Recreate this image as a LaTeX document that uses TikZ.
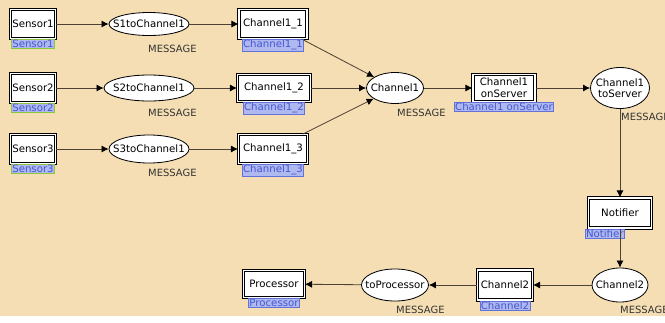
\documentclass[tikz,border=0pt]{standalone}
\usepackage{fontspec}
\setmainfont{DejaVu Sans}
\usetikzlibrary{arrows.meta,positioning,shapes.geometric}
\definecolor{sheet}{HTML}{F5DEB3}
\definecolor{arccol}{HTML}{4E4234}
\definecolor{tagfill}{HTML}{B0B8F0}
\definecolor{tagline}{HTML}{6272D8}
\definecolor{tagtext}{HTML}{4458D0}
\definecolor{sensline}{HTML}{8CC63F}
\newcommand\pl[1]{\makebox[0pt]{#1}}
\tikzset{
  subst/.style={draw=black, line width=0.85pt, double=white, double distance=1pt,
    fill=white, inner sep=1pt, minimum height=0.87cm, font=\fontsize{8.7}{10}\selectfont},
  place/.style={ellipse, draw=black, line width=0.7pt, fill=white, inner sep=0pt,
    font=\fontsize{8.7}{10}\selectfont},
  tag/.style={draw=tagline, fill=tagfill, text=tagtext, line width=0.5pt, inner sep=0.6pt,
    anchor=north, font=\fontsize{8.7}{9}\selectfont},
  sentag/.style={tag, draw=sensline, line width=0.9pt},
  colset/.style={text=black!80, inner sep=0pt, anchor=west, font=\fontsize{8.5}{10}\selectfont},
  arc/.style={draw=arccol, line width=0.7pt, -{Latex[length=6pt,width=6pt,color=black]}}
}

\begin{document}
\begin{tikzpicture}[x=0.03cm,y=-0.03cm]
	\useasboundingbox (0,0) rectangle (665,322);
	\fill[white] (0,0) rectangle (665,322);
	\fill[sheet] (0,0) rectangle (665,316);
	
	% sensors
	\node[subst, minimum width=1.35cm] (s1) at (33,24) {Sensor1};
	\node[subst, minimum width=1.35cm] (s2) at (33,88) {Sensor2};
	\node[subst, minimum width=1.35cm] (s3) at (33,149) {Sensor3};
	\node[sentag] (ts1) at (s1.south) {Sensor1};
	\node[sentag] (ts2) at (s2.south) {Sensor2};
	\node[sentag] (ts3) at (s3.south) {Sensor3};
	
	\node[place, minimum width=2.4cm, minimum height=0.69cm] (p1) at (149,24) {\pl{S1toChannel1}};
	\node[place, minimum width=2.7cm, minimum height=0.78cm] (p2) at (149,88) {\pl{S2toChannel1}};
	\node[place, minimum width=2.4cm, minimum height=0.84cm] (p3) at (149,149) {\pl{S3toChannel1}};
	\node[colset] (m1) at (148,49) {MESSAGE};
	\node[colset] (m2) at (148,113) {MESSAGE};
	\node[colset] (m3) at (148,173) {MESSAGE};
	
	% channel 1
	\node[subst, minimum width=2.04cm] (c11) at (273,24) {Channel1\_1};
	\node[subst, minimum width=2.19cm, minimum height=0.81cm] (c12) at (274,88) {Channel1\_2};
	\node[subst, minimum width=2.07cm] (c13) at (273,149) {Channel1\_3};
	\node[tag] (tc11) at (c11.south) {Channel1\_1};
	\node[tag] (tc12) at (c12.south) {Channel1\_2};
	\node[tag] (tc13) at (c13.south) {Channel1\_3};
	
	\node[place, minimum width=1.71cm, minimum height=0.93cm] (ch1) at (395,88) {\pl{Channel1}};
	\node[colset] (m4) at (397,113) {MESSAGE};
	
	\node[subst, minimum width=1.86cm, minimum height=0.81cm, align=center] (srv) at (504,88) {Channel1\\onServer};
	\node[tag] (tsrv) at (srv.south) {Channel1 onServer};
	
	\node[place, minimum width=1.77cm, minimum height=1.23cm] (tsv) at (620,88) {\pl{\shortstack{Channel1\\toServer}}};
	\node[colset] (m5) at (621,117) {MESSAGE};
	
	\node[subst, minimum width=1.89cm, minimum height=0.9cm] (notif) at (620,213) {Notifier};
	\node[tag, anchor=north west] (tnotif) at ([xshift=-0.09cm]notif.south west) {Notifier};
	
	% channel 2
	\node[place, minimum width=1.68cm, minimum height=1.02cm] (ch2p) at (620,285) {\pl{Channel2}};
	\node[colset] (m7) at (620,310) {MESSAGE};
	
	\node[subst, minimum width=1.65cm, minimum height=0.9cm] (ch2t) at (505,285) {Channel2};
	\node[tag] (tch2t) at (ch2t.south) {Channel2};
	
	\node[place, minimum width=2.01cm, minimum height=0.96cm] (toproc) at (395,285) {\pl{toProcessor}};
	\node[colset] (m6) at (396,310) {MESSAGE};
	
	\node[subst, minimum width=1.83cm, minimum height=0.81cm] (proc) at (274,284) {Processor};
	\node[tag] (tproc) at (proc.south) {Processor};
	
	% arcs
	\draw[arc] (s1) -- (p1);
	\draw[arc] (s2) -- (p2);
	\draw[arc] (s3) -- (p3);
	\draw[arc] (p1) -- (c11);
	\draw[arc] (p2) -- (c12);
	\draw[arc] (p3) -- (c13);
	\draw[arc] (c11) -- (ch1);
	\draw[arc] (c12) -- (ch1);
	\draw[arc] (c13) -- (ch1);
	\draw[arc] (ch1) -- (srv);
	\draw[arc] (srv) -- (tsv);
	\draw[arc] (tsv) -- (notif);
	\draw[arc] (notif) -- (ch2p);
	\draw[arc] (ch2p) -- (ch2t);
	\draw[arc] (ch2t) -- (toproc);
	\draw[arc] (toproc) -- (proc);
\end{tikzpicture}
\end{document}
